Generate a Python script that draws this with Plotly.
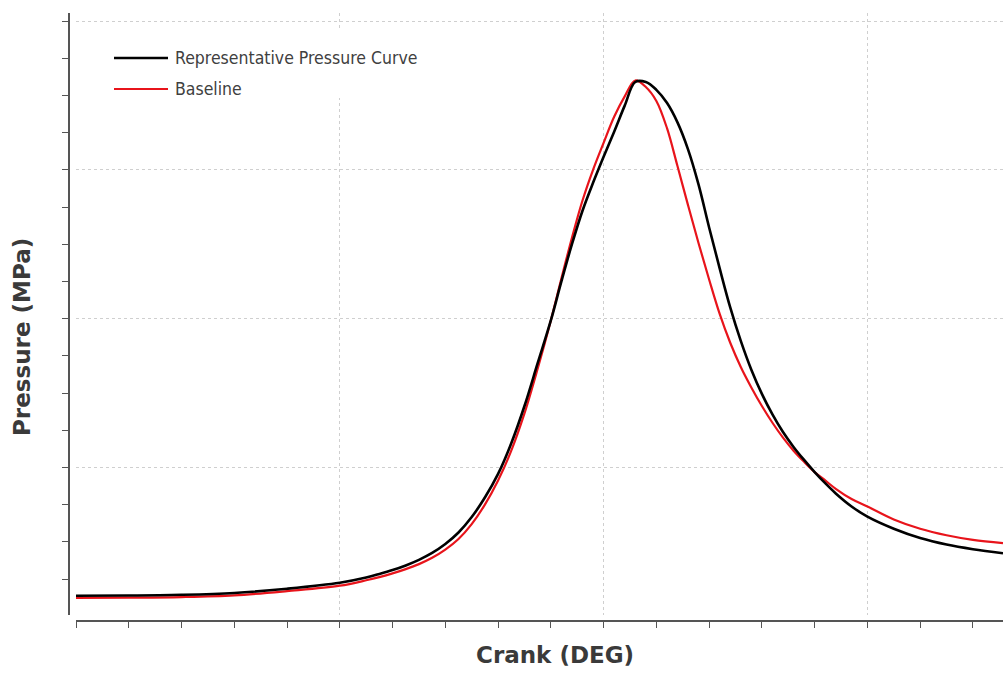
import plotly.graph_objects as go

# Crank angle (deg) and pressure (MPa)
crank_rep = [-100, -90, -80, -70, -60, -50, -45, -42.5, -40, -37.5, -35, -32.5, -30, -27.5, -25, -22.5,
             -20, -17.5, -15, -12.5, -10, -8, -6, -4, -2, 0, 2, 4, 6, 8, 10, 12, 14, 16, 18, 20,
             22, 24, 26, 28, 30, 32, 34, 36, 38, 40, 42, 44, 47, 50, 55, 60, 65, 70, 75.7]
pressure_rep = [1.10, 1.11, 1.15, 1.25, 1.48, 1.80, 2.08, 2.27, 2.48, 2.73, 3.03, 3.4, 3.88, 4.5, 5.33, 6.38,
                7.65, 9.3, 11.3, 13.6, 15.9, 18.0, 20.0, 21.8, 23.3, 24.7, 26.05, 27.45, 28.72, 28.72, 28.3, 27.6, 26.55, 25.1, 23.2, 20.9,
                18.7, 16.6, 14.8, 13.25, 11.95, 10.85, 9.9, 9.1, 8.4, 7.75, 7.15, 6.6, 5.9, 5.35, 4.7, 4.2, 3.85, 3.6, 3.38]

crank_base = [-100, -90, -80, -70, -60, -50, -45, -42.5, -40, -37.5, -35, -32.5, -30, -27.5, -25, -22.5,
              -20, -17.5, -15, -12.5, -10, -8, -6, -4, -2, 0, 2, 4, 6, 8, 10, 12, 14, 16, 18, 20,
              22, 24, 26, 28, 30, 32, 34, 36, 38, 40, 42, 44, 47, 50, 55, 60, 65, 70, 75.7]
pressure_base = [0.99, 1.00, 1.03, 1.12, 1.35, 1.64, 1.93, 2.1, 2.3, 2.53, 2.8, 3.14, 3.58, 4.15, 4.95, 6.0,
                 7.3, 8.9, 10.9, 13.3, 15.9, 18.15, 20.35, 22.35, 24.0, 25.45, 26.85, 27.95, 28.8, 28.45, 27.7, 26.25, 24.2, 22.1, 20.05, 18.1,
                 16.25, 14.7, 13.4, 12.3, 11.3, 10.4, 9.6, 8.9, 8.3, 7.75, 7.3, 6.85, 6.3, 5.9, 5.2, 4.7, 4.35, 4.1, 3.93]

series_names = ["Representative Pressure Curve", "Baseline"]
series_colors = ["#000000", "#e8141b"]

W, H = 1003, 673

def px(x):
    return x / W

def py(y):
    return 1 - y / H

fig = go.Figure()
fig.add_trace(go.Scatter(x=crank_base, y=pressure_base, mode="lines", name=series_names[1],
                         line=dict(color=series_colors[1], width=2.2, shape="spline", smoothing=1.0),
                         showlegend=False, hoverinfo="skip"))
fig.add_trace(go.Scatter(x=crank_rep, y=pressure_rep, mode="lines", name=series_names[0],
                         line=dict(color=series_colors[0], width=2.6, shape="spline", smoothing=1.0),
                         showlegend=False, hoverinfo="skip"))

axis_col = "#555555"
grid_col = "#cfcfcf"

fig.update_layout(
    width=W, height=H,
    margin=dict(l=0, r=0, t=0, b=0),
    paper_bgcolor="white", plot_bgcolor="white",
    showlegend=False,
    xaxis=dict(
        domain=[px(76), 1.0], range=[-100, 75.7],
        anchor="free", position=py(621),
        showline=True, linecolor=axis_col, linewidth=1.6,
        showticklabels=False, ticks="outside", ticklen=6, tickwidth=1.4, tickcolor=axis_col,
        tick0=0, dtick=50,
        showgrid=True, gridcolor=grid_col, griddash="dot", gridwidth=1,
        zeroline=False,
        minor=dict(dtick=10, tick0=0, ticks="outside", ticklen=6, tickwidth=1.4,
                   tickcolor=axis_col, showgrid=False),
    ),
    yaxis=dict(
        domain=[py(615), py(13)], range=[0.0645, 32.43],
        anchor="free", position=px(69),
        showline=True, linecolor=axis_col, linewidth=1.6,
        showticklabels=False, ticks="outside", ticklen=6, tickwidth=1.4, tickcolor=axis_col,
        tick0=0, dtick=8,
        showgrid=True, gridcolor=grid_col, griddash="dot", gridwidth=1,
        zeroline=False,
        minor=dict(dtick=2, tick0=0, ticks="outside", ticklen=6, tickwidth=1.4,
                   tickcolor=axis_col, showgrid=False),
    ),
)

title_font = dict(family="DejaVu Sans", size=23, color="#3a3a3a")
fig.add_annotation(text="<b>Crank (DEG)</b>", xref="paper", yref="paper",
                   x=px(555), y=py(655), showarrow=False, font=title_font,
                   xanchor="center", yanchor="middle")
fig.add_annotation(text="<b>Pressure (MPa)</b>", xref="paper", yref="paper",
                   x=px(22), y=py(337), showarrow=False, font=title_font, textangle=-90,
                   xanchor="center", yanchor="middle")

# Legend drawn manually (white box covering grid, line samples and labels)
fig.add_shape(type="rect", xref="paper", yref="paper",
              x0=px(100), x1=px(426), y0=py(98), y1=py(30),
              fillcolor="white", line=dict(width=0), layer="above")
leg_y = [58, 89]
leg_font = dict(family="DejaVu Sans Condensed, DejaVu Sans", size=17.5, color="#404040")
for name, col, ly, w in zip(series_names, series_colors, leg_y, [2.6, 2.2]):
    fig.add_shape(type="line", xref="paper", yref="paper",
                  x0=px(114), x1=px(168), y0=py(ly), y1=py(ly),
                  line=dict(color=col, width=w), layer="above")
    fig.add_annotation(text=name, xref="paper", yref="paper", x=px(173), y=py(ly),
                       showarrow=False, font=leg_font, xanchor="left", yanchor="middle")

fig.write_html("out.html")
